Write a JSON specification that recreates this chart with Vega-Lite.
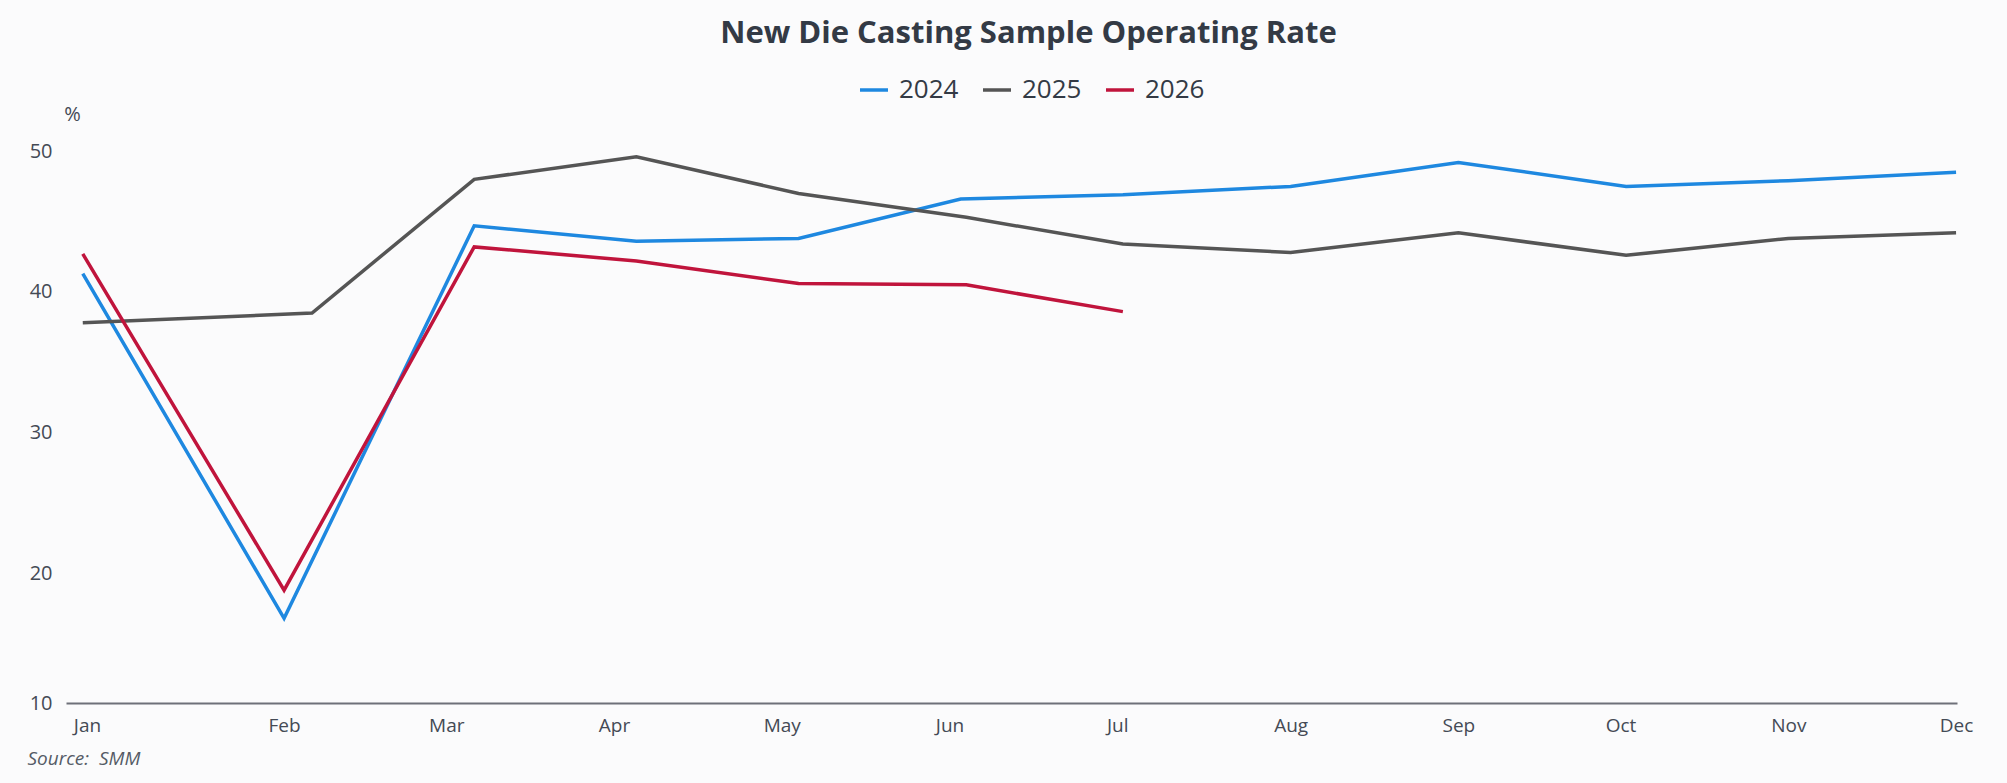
{
  "$schema": "https://vega.github.io/schema/vega-lite/v6.json",
  "width": 1891,
  "height": 605,
  "autosize": {"type": "none"},
  "padding": {"left": 66, "top": 109, "right": 50, "bottom": 69},
  "background": "#fbfbfc",
  "title": {
    "text": "New Die Casting Sample Operating Rate",
    "font": "Open Sans",
    "fontSize": 31,
    "fontWeight": "bold",
    "color": "#333a45",
    "anchor": "middle",
    "dx": 17,
    "offset": 24
  },
  "data": {
    "values": [
      {"series": "2024", "date": "2024-01-01", "rate": 41.3},
      {"series": "2024", "date": "2024-02-06", "rate": 16.8},
      {"series": "2024", "date": "2024-03-11", "rate": 44.7},
      {"series": "2024", "date": "2024-04-09", "rate": 43.6},
      {"series": "2024", "date": "2024-05-08", "rate": 43.8},
      {"series": "2024", "date": "2024-06-06", "rate": 46.6},
      {"series": "2024", "date": "2024-07-05", "rate": 46.9},
      {"series": "2024", "date": "2024-08-04", "rate": 47.5},
      {"series": "2024", "date": "2024-09-03", "rate": 49.2},
      {"series": "2024", "date": "2024-10-03", "rate": 47.5},
      {"series": "2024", "date": "2024-11-01", "rate": 47.9},
      {"series": "2024", "date": "2024-12-01", "rate": 48.5},
      {"series": "2025", "date": "2025-01-01", "rate": 37.8},
      {"series": "2025", "date": "2025-02-11", "rate": 38.5},
      {"series": "2025", "date": "2025-03-11", "rate": 48.0},
      {"series": "2025", "date": "2025-04-09", "rate": 49.6},
      {"series": "2025", "date": "2025-05-08", "rate": 47.0},
      {"series": "2025", "date": "2025-06-07", "rate": 45.3},
      {"series": "2025", "date": "2025-07-05", "rate": 43.4},
      {"series": "2025", "date": "2025-08-04", "rate": 42.8},
      {"series": "2025", "date": "2025-09-03", "rate": 44.2},
      {"series": "2025", "date": "2025-10-03", "rate": 42.6},
      {"series": "2025", "date": "2025-11-01", "rate": 43.8},
      {"series": "2025", "date": "2025-12-01", "rate": 44.2},
      {"series": "2026", "date": "2026-01-01", "rate": 42.7},
      {"series": "2026", "date": "2026-02-06", "rate": 18.8},
      {"series": "2026", "date": "2026-03-11", "rate": 43.2},
      {"series": "2026", "date": "2026-04-09", "rate": 42.2},
      {"series": "2026", "date": "2026-05-08", "rate": 40.6},
      {"series": "2026", "date": "2026-06-07", "rate": 40.5},
      {"series": "2026", "date": "2026-07-05", "rate": 38.6}
    ]
  },
  "mark": {"type": "line", "strokeWidth": 3.5, "interpolate": "linear"},
  "encoding": {
    "x": {
      "field": "date",
      "type": "temporal",
      "timeUnit": "utcmonthdate",
      "scale": {
        "domain": [
          {"year": 2011, "month": 12, "date": 29, "utc": true},
          {"year": 2012, "month": 12, "date": 1, "hours": 4, "utc": true}
        ]
      },
      "axis": {
        "values": [
          {"year": 2012, "month": 1, "date": 1, "hours": 18, "utc": true},
          {"year": 2012, "month": 2, "date": 6, "utc": true},
          {"year": 2012, "month": 3, "date": 6, "utc": true},
          {"year": 2012, "month": 4, "date": 5, "utc": true},
          {"year": 2012, "month": 5, "date": 5, "utc": true},
          {"year": 2012, "month": 6, "date": 4, "utc": true},
          {"year": 2012, "month": 7, "date": 4, "utc": true},
          {"year": 2012, "month": 8, "date": 4, "utc": true},
          {"year": 2012, "month": 9, "date": 3, "utc": true},
          {"year": 2012, "month": 10, "date": 2, "utc": true},
          {"year": 2012, "month": 11, "date": 1, "utc": true},
          {"year": 2012, "month": 12, "date": 1, "utc": true}
        ],
        "labelExpr": "utcFormat(datum.value, '%b')",
        "offset": -11,
        "grid": false,
        "ticks": false,
        "domainColor": "#6e7079",
        "domainWidth": 2,
        "labelFont": "Open Sans",
        "labelFontSize": 19,
        "labelColor": "#444a55",
        "labelPadding": 13,
        "labelFlush": false,
        "labelOverlap": false,
        "title": "Source:\u00a0 SMM",
        "titleFont": "Open Sans",
        "titleFontSize": 19,
        "titleFontStyle": "italic",
        "titleFontWeight": "normal",
        "titleColor": "#555b66",
        "titleAnchor": "start",
        "titleAlign": "left",
        "titleBaseline": "alphabetic",
        "titleX": -39,
        "titleY": 61
      }
    },
    "y": {
      "field": "rate",
      "type": "quantitative",
      "scale": {"domain": [10, 53], "nice": false, "zero": false},
      "axis": {
        "values": [10, 20, 30, 40, 50],
        "grid": false,
        "ticks": false,
        "domain": false,
        "labelFont": "Open Sans",
        "labelFontSize": 20,
        "labelColor": "#444a55",
        "labelPadding": 14,
        "labelFlush": true,
        "labelFlushOffset": -1,
        "title": "%",
        "titleFont": "Open Sans",
        "titleFontSize": 20,
        "titleFontWeight": "normal",
        "titleColor": "#444a55",
        "titleAngle": 0,
        "titleAlign": "center",
        "titleBaseline": "middle",
        "titleX": 6,
        "titleY": 5
      }
    },
    "color": {
      "field": "series",
      "type": "nominal",
      "scale": {
        "domain": ["2024", "2025", "2026"],
        "range": ["#1e88e0", "#555555", "#c0143c"]
      },
      "legend": {
        "title": null,
        "orient": "none",
        "direction": "horizontal",
        "legendX": 792,
        "legendY": -35,
        "symbolType": "stroke",
        "symbolSize": 784,
        "symbolStrokeWidth": 3.5,
        "labelFont": "Open Sans",
        "labelFontSize": 26,
        "labelColor": "#333a45",
        "labelOffset": 9,
        "columnPadding": 17
      }
    }
  },
  "config": {
    "font": "Open Sans",
    "view": {"stroke": null}
  }
}
